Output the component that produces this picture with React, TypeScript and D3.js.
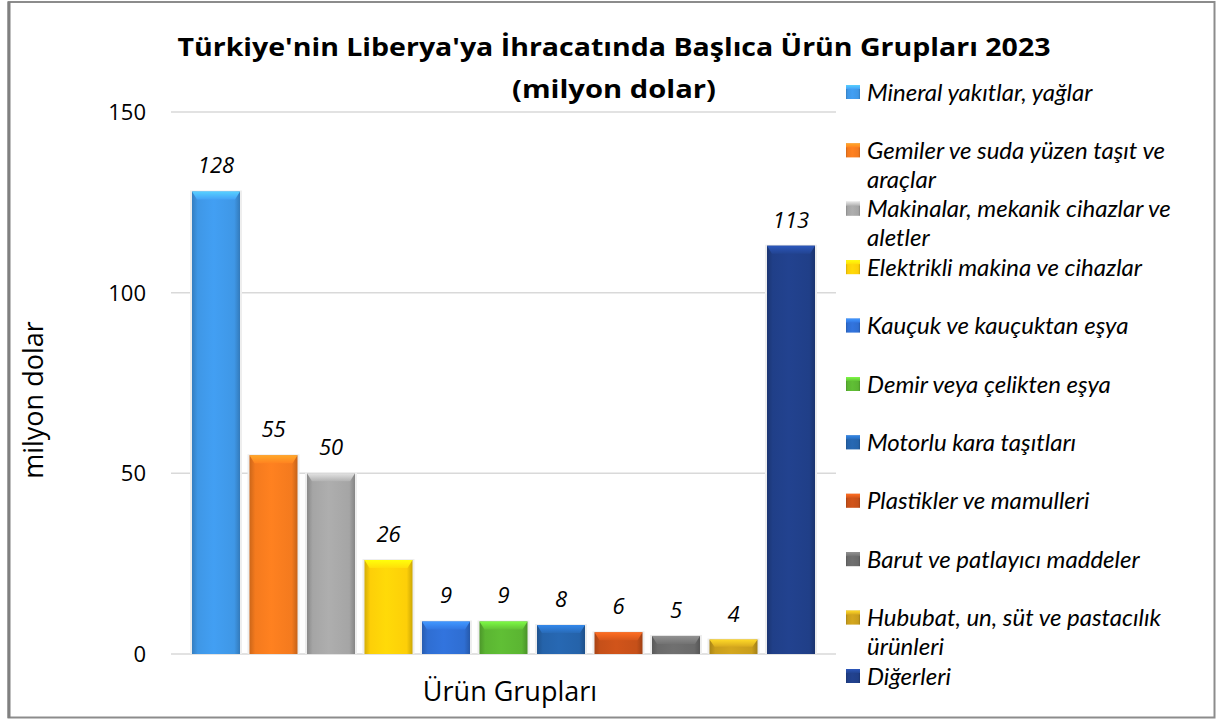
import React from 'react';
import * as d3 from 'd3';

const legendLabels: string[][] = [
  ['Mineral yakıtlar, yağlar'],
  ['Gemiler ve suda yüzen taşıt ve', 'araçlar'],
  ['Makinalar, mekanik cihazlar ve', 'aletler'],
  ['Elektrikli makina ve cihazlar'],
  ['Kauçuk ve kauçuktan eşya'],
  ['Demir veya çelikten eşya'],
  ['Motorlu kara taşıtları'],
  ['Plastikler ve mamulleri'],
  ['Barut ve patlayıcı maddeler'],
  ['Hububat, un, süt ve pastacılık', 'ürünleri'],
  ['Diğerleri']
];
const categories = legendLabels.map(l => l.join(' '));
const values = [128, 55, 50, 26, 9, 9, 8, 6, 5, 4, 113];
const colors = [
  '#3f97e6', '#f47a1e', '#a5a5a5', '#fdcf08', '#2f6ed2', '#5bb532',
  '#2563aa', '#c65019', '#6a6a6a', '#c99e1c', '#203f88'
];
const yTicks = [0, 50, 100, 150];

const W = 1219;
const H = 720;
const FONT = '"Open Sans", "Noto Sans", sans-serif';
const LEGEND_FONT = 'Lato, "Open Sans", sans-serif';

const App: React.FC = () => {
  const y = d3.scaleLinear().domain([0, 150]).range([654, 112]);
  const x = d3.scaleBand<string>()
    .domain(categories)
    .range([171, 836])
    .paddingInner(0.165)
    .paddingOuter(0.365);
  const bw = x.bandwidth();
  const legendY = d3.scaleLinear().domain([0, categories.length - 1]).range([92, 676]);

  return (
    <div style={{ position: 'fixed', left: 0, top: 0 }}>
      <svg width={W} height={H} style={{ display: 'block', background: '#fff' }}>
        <defs>
          {colors.map((c, i) => {
            const base = d3.color(c)!;
            return (
              <React.Fragment key={i}>
                <linearGradient id={`g${i}`} x1="0" x2="1" y1="0" y2="0">
                  <stop offset="0%" stopColor={base.darker(0.5).formatHex()} />
                  <stop offset="12%" stopColor={c} />
                  <stop offset="45%" stopColor={base.brighter(0.15).formatHex()} />
                  <stop offset="88%" stopColor={c} />
                  <stop offset="100%" stopColor={base.darker(0.6).formatHex()} />
                </linearGradient>
                <linearGradient id={`t${i}`} x1="0" x2="0" y1="0" y2="1">
                  <stop offset="0%" stopColor={base.brighter(0.9).formatHex()} />
                  <stop offset="100%" stopColor={base.brighter(0.2).formatHex()} />
                </linearGradient>
              </React.Fragment>
            );
          })}
        </defs>

        <rect x={8.5} y={2} width={1206} height={715.5} fill="#fff" stroke="#8c8c8c" strokeWidth={2} />
        <line x1={9} x2={9} y1={2} y2={718} stroke="#808080" strokeWidth={3} />

        <text x={614} y={56} textAnchor="middle" fontFamily={FONT} fontWeight="bold" fontSize={25}
          textLength={873} lengthAdjust="spacingAndGlyphs" fill="#000">
          Türkiye'nin Liberya'ya İhracatında Başlıca Ürün Grupları 2023
        </text>
        <text x={614} y={98} textAnchor="middle" fontFamily={FONT} fontWeight="bold" fontSize={25}
          textLength={204} lengthAdjust="spacingAndGlyphs" fill="#000">
          (milyon dolar)
        </text>

        {yTicks.map(t => (
          <g key={t}>
            <line x1={171} x2={836} y1={y(t)} y2={y(t)} stroke="#d9d9d9" strokeWidth={1.5} />
            <text x={146} y={y(t)} dy="0.36em" textAnchor="end" fontFamily={FONT} fontSize={22} fill="#000">
              {t}
            </text>
          </g>
        ))}

        <text transform="translate(43,400) rotate(-90)" textAnchor="middle" fontFamily={FONT} fontSize={27} fill="#000">
          milyon dolar
        </text>
        <text x={510} y={701} textAnchor="middle" fontFamily={FONT} fontSize={27} fill="#000">
          Ürün Grupları
        </text>

        {categories.map((c, i) => {
          const bx = x(c)!;
          const top = y(values[i]);
          const h = y(0) - top;
          const cap = Math.min(8, h / 2);
          return (
            <g key={c}>
              <rect x={bx - 2} y={top - 1} width={bw + 4} height={h + 1} fill="#eeeeee" />
              <rect x={bx} y={top} width={bw} height={h} fill={`url(#g${i})`} />
              <path
                d={`M${bx},${top} L${bx + bw},${top} L${bx + bw - 5},${top + cap} L${bx + 5},${top + cap} Z`}
                fill={`url(#t${i})`}
              />
              <text
                x={bx + bw / 2}
                y={top - 18}
                textAnchor="middle"
                fontFamily={FONT}
                fontStyle="italic"
                fontSize={22}
                fill="#000"
              >
                {values[i]}
              </text>
            </g>
          );
        })}

        {legendLabels.map((lines, i) => {
          const ly = legendY(i);
          return (
            <g key={i}>
              <rect x={846} y={ly - 7} width={14} height={14} fill={`url(#g${i})`} />
              <rect x={846} y={ly - 7} width={14} height={4} fill={`url(#t${i})`} />
              {lines.map((l, k) => (
                <text
                  key={k}
                  x={867}
                  y={ly + k * 29}
                  dy="0.36em"
                  fontFamily={LEGEND_FONT}
                  fontStyle="italic"
                  fontSize={24}
                  fill="#000"
                >
                  {l}
                </text>
              ))}
            </g>
          );
        })}
      </svg>
    </div>
  );
};

export default App;
